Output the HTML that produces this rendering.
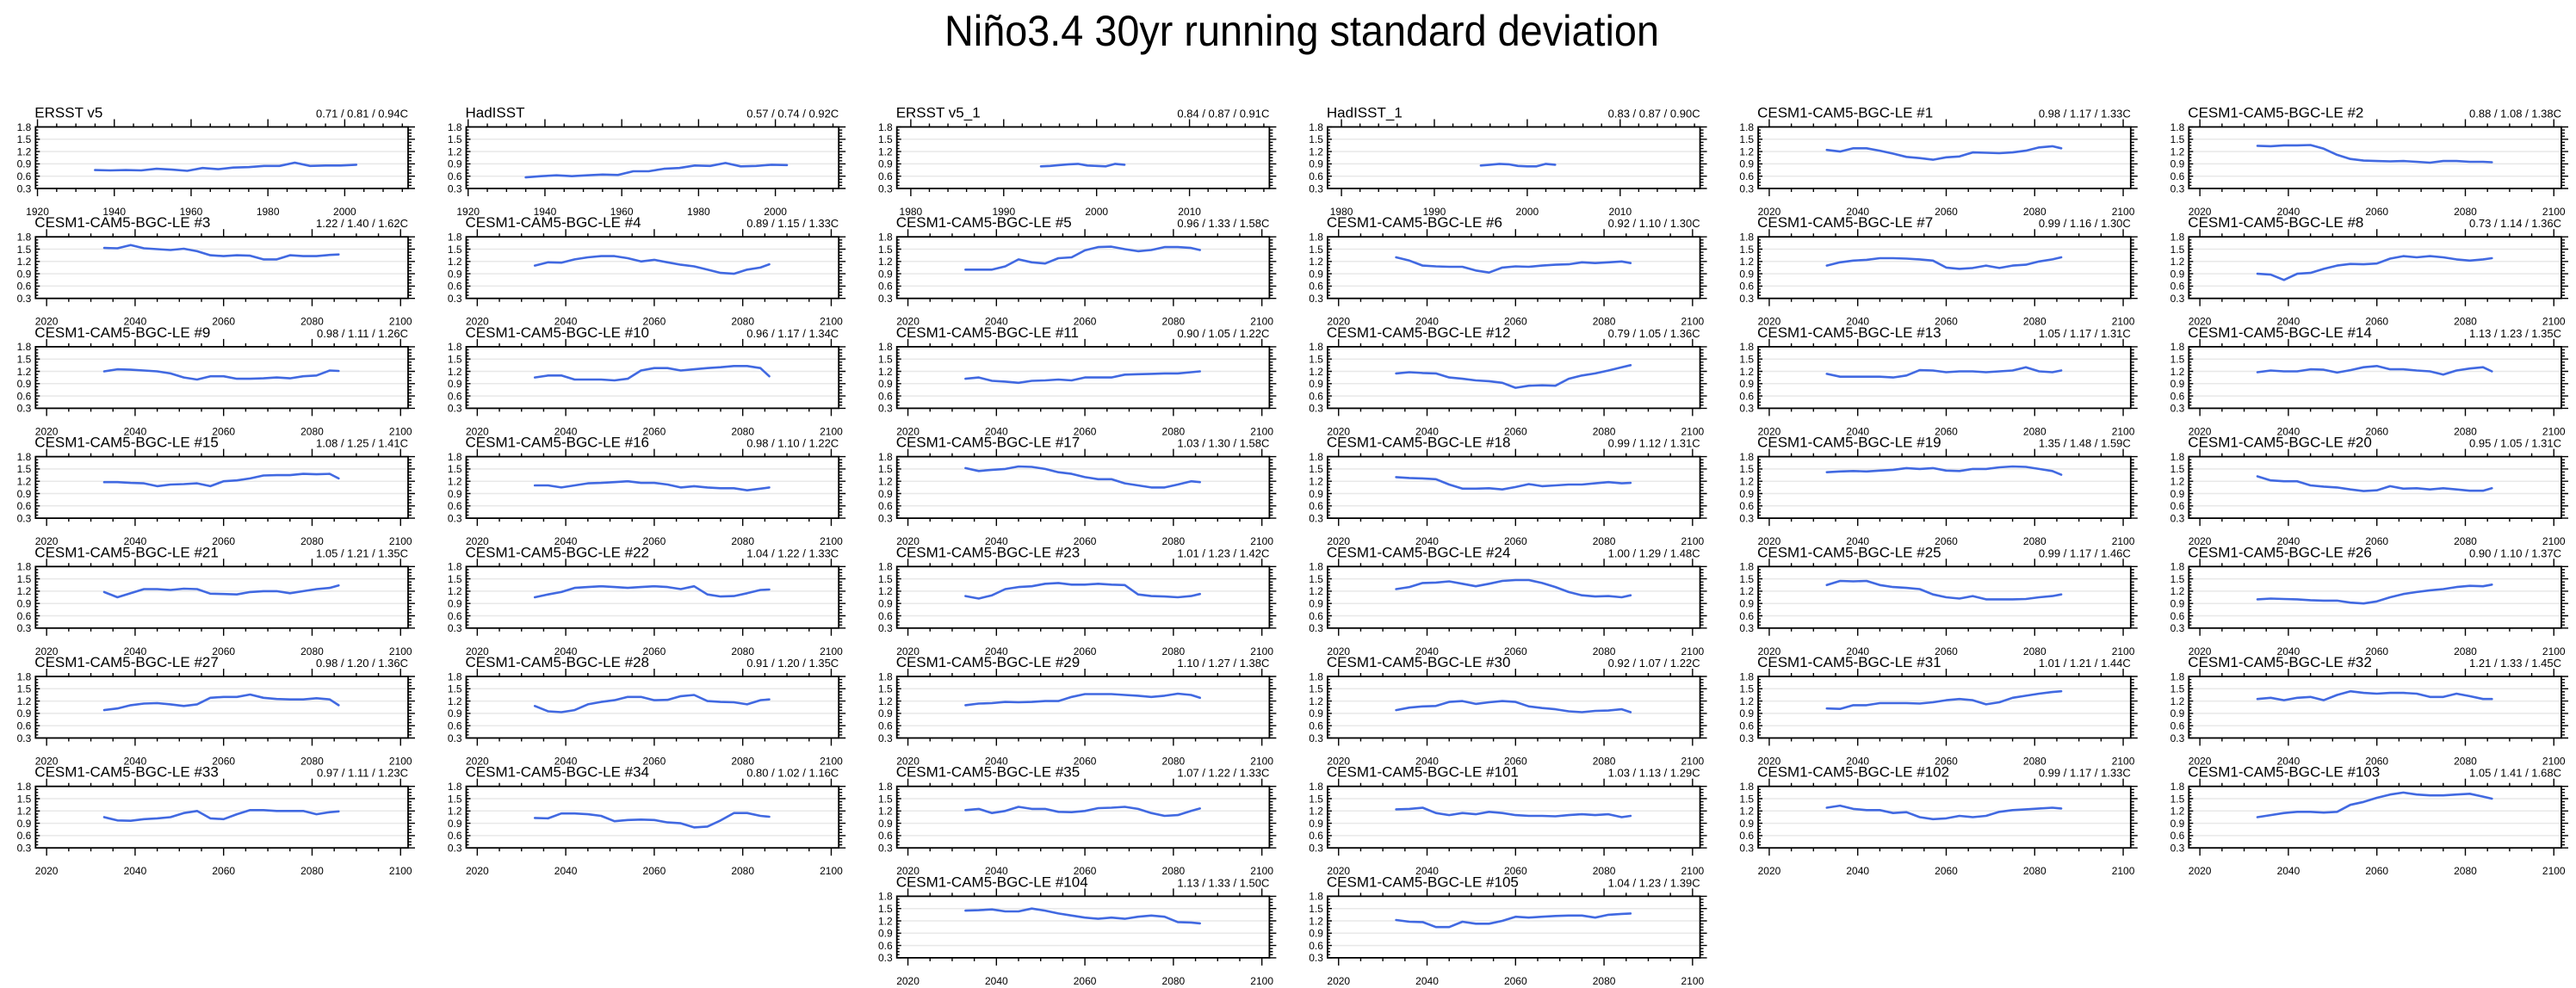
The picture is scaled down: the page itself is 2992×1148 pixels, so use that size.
<!DOCTYPE html>
<html><head><meta charset="utf-8"><title>Niño3.4 30yr running standard deviation</title>
<style>
html,body{margin:0;padding:0;background:#fff;}
svg{display:block;font-family:"Liberation Sans",Arial,sans-serif;}
</style></head>
<body>
<svg id="chart" xmlns="http://www.w3.org/2000/svg" width="2992" height="1148" viewBox="0 0 2992 1148">
<rect x="0" y="0" width="2992" height="1148" fill="#fff"/>
<text x="1512" y="53" font-size="50" text-anchor="middle" textLength="830" lengthAdjust="spacingAndGlyphs" fill="#000">Niño3.4 30yr running standard deviation</text>
<g id="panels"></g>
</svg>
<script>
// ---------- data ----------
const yTicks = [0.3, 0.6, 0.9, 1.2, 1.5, 1.8];
const yTickLabels = ["0.3", "0.6", "0.9", "1.2", "1.5", "1.8"];
const obsLongYears = [1935,1939,1943,1947,1951,1955,1959,1963,1967,1971,1975,1979,1983,1987,1991,1995,1999,2003];
const obsShortYears1 = [1994,1995,1996,1997,1998,1999,2000,2001,2002,2003];
const obsShortYears2 = [1995,1996,1997,1998,1999,2000,2001,2002,2003];
const cesmYears = [2033,2036,2039,2042,2045,2048,2051,2054,2057,2060,2063,2066,2069,2072,2075,2078,2081,2084,2086];
const longXTicks = [1920,1940,1960,1980,2000];
const shortXTicks = [1980,1990,2000,2010];
const cesmXTicks = [2020,2040,2060,2080,2100];

const panelNames = ["ERSST v5","HadISST","ERSST v5_1","HadISST_1","CESM1-CAM5-BGC-LE #1","CESM1-CAM5-BGC-LE #2",
"CESM1-CAM5-BGC-LE #3","CESM1-CAM5-BGC-LE #4","CESM1-CAM5-BGC-LE #5","CESM1-CAM5-BGC-LE #6","CESM1-CAM5-BGC-LE #7","CESM1-CAM5-BGC-LE #8",
"CESM1-CAM5-BGC-LE #9","CESM1-CAM5-BGC-LE #10","CESM1-CAM5-BGC-LE #11","CESM1-CAM5-BGC-LE #12","CESM1-CAM5-BGC-LE #13","CESM1-CAM5-BGC-LE #14",
"CESM1-CAM5-BGC-LE #15","CESM1-CAM5-BGC-LE #16","CESM1-CAM5-BGC-LE #17","CESM1-CAM5-BGC-LE #18","CESM1-CAM5-BGC-LE #19","CESM1-CAM5-BGC-LE #20",
"CESM1-CAM5-BGC-LE #21","CESM1-CAM5-BGC-LE #22","CESM1-CAM5-BGC-LE #23","CESM1-CAM5-BGC-LE #24","CESM1-CAM5-BGC-LE #25","CESM1-CAM5-BGC-LE #26",
"CESM1-CAM5-BGC-LE #27","CESM1-CAM5-BGC-LE #28","CESM1-CAM5-BGC-LE #29","CESM1-CAM5-BGC-LE #30","CESM1-CAM5-BGC-LE #31","CESM1-CAM5-BGC-LE #32",
"CESM1-CAM5-BGC-LE #33","CESM1-CAM5-BGC-LE #34","CESM1-CAM5-BGC-LE #35","CESM1-CAM5-BGC-LE #101","CESM1-CAM5-BGC-LE #102","CESM1-CAM5-BGC-LE #103",
"CESM1-CAM5-BGC-LE #104","CESM1-CAM5-BGC-LE #105"];

const panelStats = ["0.71 / 0.81 / 0.94C","0.57 / 0.74 / 0.92C","0.84 / 0.87 / 0.91C","0.83 / 0.87 / 0.90C","0.98 / 1.17 / 1.33C","0.88 / 1.08 / 1.38C",
"1.22 / 1.40 / 1.62C","0.89 / 1.15 / 1.33C","0.96 / 1.33 / 1.58C","0.92 / 1.10 / 1.30C","0.99 / 1.16 / 1.30C","0.73 / 1.14 / 1.36C",
"0.98 / 1.11 / 1.26C","0.96 / 1.17 / 1.34C","0.90 / 1.05 / 1.22C","0.79 / 1.05 / 1.36C","1.05 / 1.17 / 1.31C","1.13 / 1.23 / 1.35C",
"1.08 / 1.25 / 1.41C","0.98 / 1.10 / 1.22C","1.03 / 1.30 / 1.58C","0.99 / 1.12 / 1.31C","1.35 / 1.48 / 1.59C","0.95 / 1.05 / 1.31C",
"1.05 / 1.21 / 1.35C","1.04 / 1.22 / 1.33C","1.01 / 1.23 / 1.42C","1.00 / 1.29 / 1.48C","0.99 / 1.17 / 1.46C","0.90 / 1.10 / 1.37C",
"0.98 / 1.20 / 1.36C","0.91 / 1.20 / 1.35C","1.10 / 1.27 / 1.38C","0.92 / 1.07 / 1.22C","1.01 / 1.21 / 1.44C","1.21 / 1.33 / 1.45C",
"0.97 / 1.11 / 1.23C","0.80 / 1.02 / 1.16C","1.07 / 1.22 / 1.33C","1.03 / 1.13 / 1.29C","0.99 / 1.17 / 1.33C","1.05 / 1.41 / 1.68C",
"1.13 / 1.33 / 1.50C","1.04 / 1.23 / 1.39C"];

const ersstV5 = [0.75,0.74,0.75,0.74,0.78,0.76,0.73,0.80,0.77,0.81,0.82,0.85,0.85,0.93,0.85,0.86,0.86,0.88];
const hadisst = [0.57,0.60,0.62,0.60,0.62,0.64,0.63,0.72,0.72,0.78,0.80,0.86,0.85,0.92,0.84,0.85,0.88,0.87];
const ersstV5b = [0.84,0.85,0.87,0.89,0.90,0.86,0.85,0.84,0.90,0.88];
const hadisstB = [0.86,0.88,0.90,0.89,0.85,0.84,0.84,0.90,0.88];
const m1 = [1.24,1.20,1.28,1.28,1.22,1.15,1.07,1.04,1.00,1.06,1.08,1.18,1.17,1.16,1.18,1.22,1.30,1.33,1.28];
const m2 = [1.34,1.33,1.35,1.35,1.36,1.27,1.12,1.02,0.98,0.97,0.96,0.97,0.95,0.93,0.97,0.97,0.95,0.95,0.94];
const m3 = [1.53,1.52,1.60,1.52,1.50,1.48,1.51,1.45,1.35,1.33,1.35,1.34,1.25,1.25,1.35,1.33,1.33,1.36,1.37];
const m4 = [1.10,1.18,1.17,1.25,1.30,1.33,1.33,1.28,1.20,1.24,1.18,1.12,1.08,1.00,0.92,0.90,1.00,1.05,1.13];
const m5 = [1.00,1.00,1.00,1.08,1.25,1.18,1.15,1.28,1.30,1.47,1.55,1.56,1.50,1.45,1.48,1.55,1.55,1.53,1.48];
const m6 = [1.30,1.22,1.10,1.08,1.07,1.07,0.98,0.93,1.05,1.08,1.07,1.10,1.12,1.13,1.18,1.16,1.18,1.20,1.16];
const m7 = [1.10,1.18,1.22,1.24,1.28,1.28,1.27,1.25,1.22,1.05,1.02,1.04,1.10,1.04,1.10,1.12,1.20,1.25,1.30];
const m8 = [0.90,0.88,0.75,0.90,0.92,1.02,1.10,1.14,1.13,1.15,1.27,1.33,1.30,1.33,1.30,1.25,1.22,1.25,1.28];
const m9 = [1.20,1.25,1.24,1.22,1.20,1.15,1.05,1.00,1.08,1.08,1.02,1.02,1.03,1.05,1.03,1.08,1.10,1.22,1.21];
const m10 = [1.05,1.10,1.10,1.00,1.00,1.00,0.98,1.02,1.22,1.28,1.28,1.22,1.25,1.28,1.30,1.33,1.33,1.28,1.08];
const m11 = [1.02,1.05,0.97,0.95,0.92,0.97,0.98,1.00,0.98,1.05,1.05,1.05,1.12,1.13,1.14,1.15,1.15,1.18,1.20];
const m12 = [1.15,1.18,1.16,1.15,1.05,1.02,0.98,0.96,0.92,0.80,0.85,0.86,0.85,1.02,1.10,1.15,1.22,1.30,1.35];
const m13 = [1.14,1.07,1.07,1.07,1.07,1.05,1.10,1.23,1.22,1.18,1.20,1.20,1.18,1.20,1.22,1.30,1.20,1.18,1.22];
const m14 = [1.18,1.22,1.20,1.20,1.25,1.24,1.17,1.23,1.30,1.33,1.25,1.25,1.22,1.20,1.12,1.22,1.27,1.30,1.20];
const m15 = [1.18,1.18,1.16,1.15,1.08,1.12,1.13,1.15,1.08,1.20,1.22,1.27,1.34,1.35,1.35,1.38,1.37,1.38,1.27];
const m16 = [1.10,1.10,1.05,1.10,1.15,1.16,1.18,1.20,1.16,1.16,1.12,1.05,1.08,1.05,1.03,1.03,0.98,1.02,1.05];
const m17 = [1.52,1.45,1.48,1.50,1.56,1.55,1.50,1.42,1.38,1.30,1.25,1.25,1.15,1.10,1.05,1.05,1.12,1.20,1.18];
const m18 = [1.30,1.28,1.27,1.25,1.12,1.02,1.02,1.03,1.00,1.06,1.13,1.08,1.10,1.12,1.12,1.15,1.18,1.15,1.16];
const m19 = [1.42,1.44,1.45,1.44,1.46,1.48,1.52,1.50,1.52,1.46,1.45,1.50,1.50,1.54,1.56,1.55,1.50,1.45,1.36];
const m20 = [1.32,1.22,1.20,1.20,1.10,1.07,1.05,1.00,0.96,0.98,1.08,1.02,1.03,1.00,1.03,1.00,0.97,0.97,1.03];
const m21 = [1.18,1.05,1.15,1.25,1.25,1.23,1.26,1.25,1.14,1.13,1.12,1.18,1.20,1.20,1.15,1.20,1.25,1.28,1.34];
const m22 = [1.05,1.12,1.18,1.28,1.30,1.32,1.30,1.28,1.30,1.32,1.30,1.25,1.32,1.12,1.07,1.08,1.15,1.23,1.24];
const m23 = [1.08,1.02,1.10,1.25,1.30,1.32,1.38,1.40,1.36,1.36,1.38,1.36,1.35,1.12,1.08,1.07,1.05,1.08,1.13];
const m24 = [1.25,1.30,1.40,1.41,1.44,1.38,1.32,1.38,1.45,1.47,1.47,1.40,1.30,1.18,1.10,1.07,1.08,1.05,1.10];
const m25 = [1.35,1.45,1.44,1.45,1.35,1.30,1.28,1.25,1.12,1.05,1.02,1.08,1.00,1.00,1.00,1.01,1.05,1.08,1.12];
const m26 = [1.00,1.02,1.01,1.00,0.98,0.97,0.97,0.92,0.90,0.95,1.05,1.13,1.18,1.22,1.25,1.30,1.33,1.32,1.36];
const m27 = [0.98,1.02,1.10,1.14,1.15,1.12,1.08,1.12,1.28,1.30,1.30,1.36,1.28,1.25,1.24,1.24,1.27,1.24,1.10];
const m28 = [1.08,0.95,0.93,0.98,1.12,1.18,1.22,1.30,1.30,1.22,1.23,1.32,1.35,1.20,1.18,1.17,1.12,1.22,1.24];
const m29 = [1.10,1.14,1.15,1.18,1.17,1.18,1.20,1.20,1.30,1.37,1.37,1.37,1.35,1.33,1.30,1.33,1.38,1.35,1.28];
const m30 = [0.98,1.04,1.07,1.08,1.18,1.20,1.13,1.17,1.20,1.18,1.07,1.03,1.00,0.95,0.93,0.96,0.97,1.00,0.93];
const m31 = [1.02,1.01,1.10,1.10,1.15,1.15,1.15,1.14,1.17,1.22,1.25,1.22,1.12,1.17,1.28,1.33,1.38,1.42,1.44];
const m32 = [1.25,1.28,1.22,1.28,1.30,1.22,1.35,1.44,1.40,1.38,1.40,1.40,1.38,1.30,1.30,1.38,1.32,1.25,1.25];
const m33 = [1.05,0.97,0.96,1.00,1.02,1.05,1.15,1.20,1.02,1.00,1.12,1.22,1.22,1.20,1.20,1.20,1.12,1.17,1.19];
const m34 = [1.03,1.02,1.14,1.14,1.12,1.08,0.95,0.98,0.99,0.98,0.92,0.90,0.80,0.82,0.97,1.15,1.15,1.08,1.06];
const m35 = [1.22,1.25,1.15,1.20,1.30,1.25,1.25,1.18,1.17,1.20,1.27,1.28,1.30,1.25,1.15,1.08,1.10,1.20,1.26];
const m101 = [1.24,1.25,1.28,1.15,1.10,1.15,1.12,1.18,1.15,1.10,1.08,1.08,1.07,1.10,1.12,1.10,1.12,1.05,1.08];
const m102 = [1.28,1.33,1.25,1.22,1.22,1.15,1.17,1.05,1.00,1.02,1.08,1.05,1.08,1.18,1.22,1.24,1.26,1.28,1.26];
const m103 = [1.05,1.10,1.15,1.18,1.18,1.16,1.18,1.35,1.42,1.52,1.60,1.65,1.60,1.58,1.58,1.60,1.62,1.55,1.50];
const m104 = [1.45,1.46,1.48,1.43,1.43,1.50,1.45,1.38,1.33,1.28,1.25,1.28,1.25,1.30,1.33,1.30,1.17,1.16,1.14];
const m105 = [1.22,1.18,1.17,1.05,1.05,1.18,1.13,1.13,1.20,1.30,1.28,1.30,1.32,1.33,1.33,1.28,1.35,1.37,1.38];

const panelValues = [ersstV5,hadisst,ersstV5b,hadisstB,m1,m2,m3,m4,m5,m6,m7,m8,m9,m10,m11,m12,m13,m14,m15,m16,m17,m18,m19,m20,
m21,m22,m23,m24,m25,m26,m27,m28,m29,m30,m31,m32,m33,m34,m35,m101,m102,m103,m104,m105];

// ---------- layout ----------
const NS = "http://www.w3.org/2000/svg";
const root = document.getElementById("panels");
const BOX_W = 432.7, BOX_H = 71.5;
const Y_MIN = 0.3, Y_MAX = 1.8;

function mk(tag, attrs, parent){
  const e = document.createElementNS(NS, tag);
  for (const k in attrs) e.setAttribute(k, attrs[k]);
  parent.appendChild(e);
  return e;
}

function panelConfig(i){
  if (i === 0 || i === 1) return {years: obsLongYears, xmin: 1919.5, xmax: 2016.5, ticks: longXTicks, minor: 5};
  if (i === 2) return {years: obsShortYears1, xmin: 1978.5, xmax: 2018.6, ticks: shortXTicks, minor: 2};
  if (i === 3) return {years: obsShortYears2, xmin: 1978.5, xmax: 2018.6, ticks: shortXTicks, minor: 2};
  return {years: cesmYears, xmin: 2017.5, xmax: 2101.7, ticks: cesmXTicks, minor: 5};
}

function slug(s){ return s.toLowerCase().replace(/[^a-z0-9]+/g, "-").replace(/^-|-$/g, ""); }

for (let i = 0; i < panelNames.length; i++) {
  let col, row;
  if (i < 42) { col = i % 6; row = Math.floor(i / 6); }
  else { col = 2 + (i - 42); row = 7; }
  const L = 41.3 + col * 500.2;
  const T = 147.5 + row * 127.7;
  const R = L + BOX_W, B = T + BOX_H;
  const cfg = panelConfig(i);
  const xs = v => L + (v - cfg.xmin) / (cfg.xmax - cfg.xmin) * BOX_W;
  const ys = v => B - (v - Y_MIN) / (Y_MAX - Y_MIN) * BOX_H;

  const g = mk("g", {}, root);
  
  

  // gridlines
  for (let k = 1; k < yTicks.length - 1; k++) {
    const gl = mk("line", {x1: L, x2: R, y1: ys(yTicks[k]), y2: ys(yTicks[k]), stroke: "#e8e8e8", "stroke-width": 1.5}, g);
    
    
  }

  // y ticks: major + minor
  let tickPath = "";
  for (let k = 0; k < yTicks.length; k++) {
    const y = ys(yTicks[k]);
    tickPath += `M${L} ${y}h5M${R} ${y}h8`;
    if (k < yTicks.length - 1) {
      for (let m = 1; m < 4; m++) {
        const ym = ys(yTicks[k] + m * 0.075);
        tickPath += `M${L} ${ym}h3M${R} ${ym}h4`;
      }
    }
  }
  // x ticks
  const firstMinor = Math.ceil(cfg.xmin / cfg.minor) * cfg.minor;
  for (let v = firstMinor; v <= cfg.xmax; v += cfg.minor) {
    const x = xs(v);
    const major = cfg.ticks.indexOf(v) >= 0;
    const len = major ? 9 : 4;
    tickPath += `M${x} ${T}v${-len}M${x} ${B}v${len}`;
  }
  const tp = mk("path", {d: tickPath, stroke: "#000", "stroke-width": 1.4, fill: "none"}, g);
  
  

  // frame
  const fr = mk("rect", {x: L, y: T, width: BOX_W, height: BOX_H, fill: "none", stroke: "#000", "stroke-width": 1.8}, g);
  
  

  // y labels
  for (let k = 0; k < yTicks.length; k++) {
    const t = mk("text", {x: L - 5, y: ys(yTicks[k]) + 4.3, "font-size": 12, "text-anchor": "end", fill: "#000"}, g);
    t.textContent = yTickLabels[k];
    
    
  }
  // x labels
  for (const v of cfg.ticks) {
    const t = mk("text", {x: xs(v), y: B + 31, "font-size": 12, "text-anchor": "middle", fill: "#000"}, g);
    t.textContent = String(v);
    
    
  }
  // titles
  const tt = mk("text", {x: L - 1, y: T - 11, "font-size": 17, fill: "#000"}, g);
  tt.textContent = panelNames[i];
  
  
  const st = mk("text", {x: R, y: T - 11, "font-size": 13, "text-anchor": "end", fill: "#000"}, g);
  st.textContent = panelStats[i];
  
  

  // series line
  const vals = panelValues[i];
  let d = "";
  for (let k = 0; k < vals.length; k++) {
    d += (k ? "L" : "M") + xs(cfg.years[k]).toFixed(1) + " " + ys(vals[k]).toFixed(1);
  }
  const ln = mk("path", {d: d, stroke: "#4169e1", "stroke-width": 2.6, fill: "none", "stroke-linejoin": "round", "stroke-linecap": "round"}, g);
  
  
}
</script>
</body></html>
